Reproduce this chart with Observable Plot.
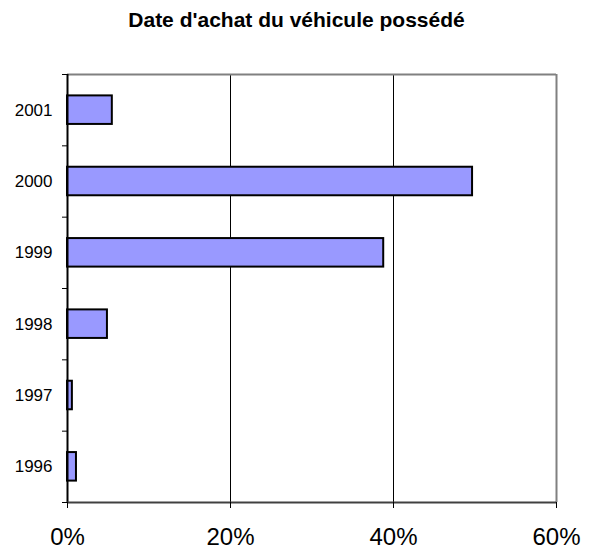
<!DOCTYPE html>
<html><head><meta charset="utf-8">
<script src="https://cdn.jsdelivr.net/npm/d3@7"></script>
<script src="https://cdn.jsdelivr.net/npm/@observablehq/plot@0.6"></script>
<style>
body{margin:0;background:#fff;font-family:"Liberation Sans",Arial,sans-serif;}
#title{height:44px;width:593px;box-sizing:border-box;padding-bottom:4px;display:flex;align-items:center;justify-content:center;font-weight:bold;font-size:21px;color:#000;}
</style></head><body>
<div id="title">Date d'achat du véhicule possédé</div>
<div id="chart"></div>
<script>
const years = ["1996","1997","1998","1999","2000","2001"];
const shares = [1.1, 0.6, 4.9, 38.8, 49.7, 5.5];
const xTicks = [0, 20, 40, 60];
const gridValues = [20, 40];

const data = years.map((y, i) => ({year: y, idx: i, share: shares[i]}));
const n = years.length;

const chart = Plot.plot({
  width: 593,
  height: 510,
  marginTop: 30,
  marginBottom: 52,
  marginLeft: 67,
  marginRight: 37,
  style: {fontFamily: "'Liberation Sans', Arial, sans-serif", color: "#000", background: "#fff"},
  x: {domain: [0, 60], label: null},
  y: {domain: [0, n], label: null},
  marks: [
    Plot.ruleX(gridValues, {stroke: "#000", strokeWidth: 1}),
    Plot.ruleY([n], {stroke: "#808080", strokeWidth: 2}),
    Plot.ruleX([60], {stroke: "#808080", strokeWidth: 2}),
    Plot.rectX(data, {x1: 0, x2: "share", y1: d => d.idx + 0.3, y2: d => d.idx + 0.7, fill: "#9999FF", stroke: "#000", strokeWidth: 2}),
    Plot.ruleX([0], {stroke: "#000", strokeWidth: 2}),
    Plot.ruleY([0], {stroke: "#404040", strokeWidth: 2}),
    Plot.axisY({ticks: d3.range(0, n + 1), tickFormat: () => "", tickSize: 5, stroke: "#000", label: null}),
    Plot.axisY({ticks: d3.range(0, n).map(i => i + 0.5), tickFormat: d => years[Math.floor(d)], tickSize: 0, tickPadding: 15, fontSize: 17, label: null}),
    Plot.axisX({ticks: xTicks, tickFormat: d => d + "%", tickSize: 6, tickPadding: 19, fontSize: 24, stroke: "#000", label: null})
  ]
});
document.getElementById("chart").appendChild(chart);
</script>
</body></html>
